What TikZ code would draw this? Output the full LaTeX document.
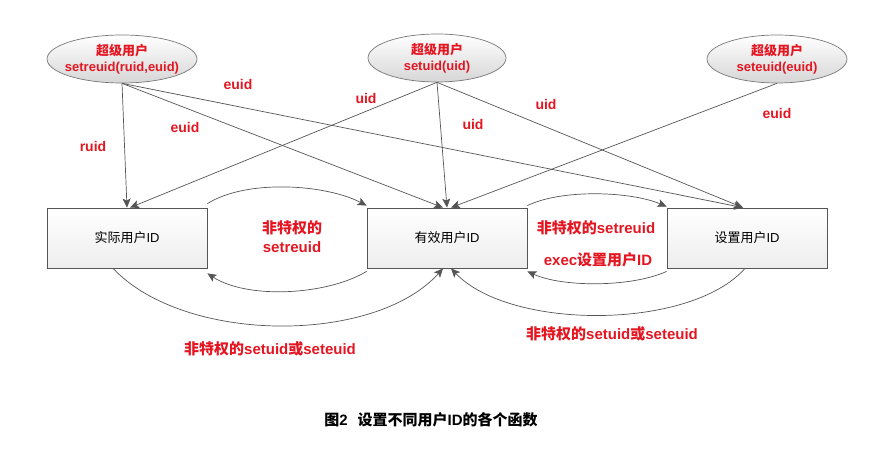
\documentclass[tikz,border=0pt]{standalone}
\usepackage{fontspec}
\setmainfont{Liberation Sans}
\newfontfamily\cjk{Noto Sans CJK SC}
\newcommand{\zh}[1]{{\cjk #1}}
\usepackage{tikz}
\usetikzlibrary{shapes.geometric,positioning,arrows.meta}
\definecolor{idred}{RGB}{228,22,34}
\definecolor{idline}{RGB}{85,85,85}

\begin{document}
\begin{tikzpicture}[x=1pt, y=-1pt]
    % Define styles
    \tikzset{
        sup/.style={ellipse, draw=idline!80, line width=0.7pt, top color=white, bottom color=gray!32, minimum width=140pt, minimum height=48pt, inner xsep=-14pt, inner ysep=-6pt, align=center, text=idred, font=\fontsize{13}{15.5}\selectfont\bfseries},
        idbox/.style={rectangle, draw=idline, line width=0.8pt, top color=white, bottom color=gray!14, minimum width=160pt, minimum height=60pt, font=\fontsize{13}{15}\selectfont},
        arr/.style={draw=idline, line width=0.7pt, -{Stealth[length=9pt,width=8pt,inset=2pt]}},
        lbl/.style={text=idred, inner sep=1pt, font=\fontsize{14}{16}\selectfont\bfseries},
        biglbl/.style={lbl, align=center, font=\fontsize{15}{19}\selectfont\bfseries}
    }
    \useasboundingbox (0,0) rectangle (893,465);

    % Superuser calls
    \node[sup, minimum width=150pt] (sup1) at (122,59) {\zh{超级用户}\\setreuid(ruid,euid)};
    \node[sup, minimum width=138pt] (sup2) at (437,58) {\zh{超级用户}\\setuid(uid)};
    \node[sup] (sup3) at (777,59) {\zh{超级用户}\\seteuid(euid)};

    % IDs
    \node[idbox] (real) at (127,238) {\zh{实际用户}ID};
    \node[idbox] (eff) at (447,238) {\zh{有效用户}ID};
    \node[idbox] (saved) at (747,238) {\zh{设置用户}ID};

    % Arrows from the superuser calls
    \draw[arr] (sup1.south) -- (real.north);
    \draw[arr] (sup1.south) -- ([xshift=-4pt]eff.north);
    \draw[arr] (sup1.south) -- ([xshift=-4pt]saved.north);
    \draw[arr] (sup2.south) -- ([xshift=3pt]real.north);
    \draw[arr] (sup2.south) -- (eff.north);
    \draw[arr] (sup2.south) -- ([xshift=-4pt]saved.north);
    \draw[arr] (sup3.south) -- ([xshift=4pt]eff.north);

    % Arrows between the IDs
    \draw[arr] ([yshift=4pt]real.north east) .. controls +(40,-25) and +(-40,-21) .. ([yshift=2pt]eff.north west);
    \draw[arr] ([yshift=-3pt]eff.south west) .. controls +(-40,24) and +(40,26) .. ([yshift=-5pt]real.south east);
    \draw[arr] ([yshift=2pt]eff.north east) .. controls +(35,-17) and +(-35,-15) .. ([yshift=1pt]saved.north west);
    \draw[arr] ([yshift=-3pt]saved.south west) .. controls +(-35,16) and +(35,16) .. ([yshift=-3pt]eff.south east);
    \draw[arr] ([xshift=-14pt]real.south) .. controls +(72,76) and +(-68,76) .. ([xshift=-4pt]eff.south);
    \draw[arr] ([xshift=-2pt]saved.south) .. controls +(-55,62) and +(59,62) .. ([xshift=4pt]eff.south);

    % Labels
    \node[lbl] (l1) at (93,146) {ruid};
    \node[lbl] (l2) at (185,127) {euid};
    \node[lbl] (l3) at (238,84) {euid};
    \node[lbl] (l4) at (366,98) {uid};
    \node[lbl] (l5) at (473,124) {uid};
    \node[lbl] (l6) at (546,104) {uid};
    \node[lbl] (l7) at (777,113) {euid};
    \node[biglbl] (l8) at (292,237) {\zh{非特权的}\\setreuid};
    \node[biglbl] (l9) at (596,228) {\zh{非特权的}setreuid};
    \node[biglbl] (l10) at (598,260) {exec\zh{设置用户}ID};
    \node[biglbl] (l11) at (270,349) {\zh{非特权的}setuid\zh{或}seteuid};
    \node[biglbl] (l12) at (612,334) {\zh{非特权的}setuid\zh{或}seteuid};

    % Caption
    \node[font=\fontsize{15}{17}\selectfont\bfseries] (cap) at (431,420) {\zh{图}2\hspace{10pt}\zh{设置不同用户}ID\zh{的各个函数}};
\end{tikzpicture}
\end{document}
